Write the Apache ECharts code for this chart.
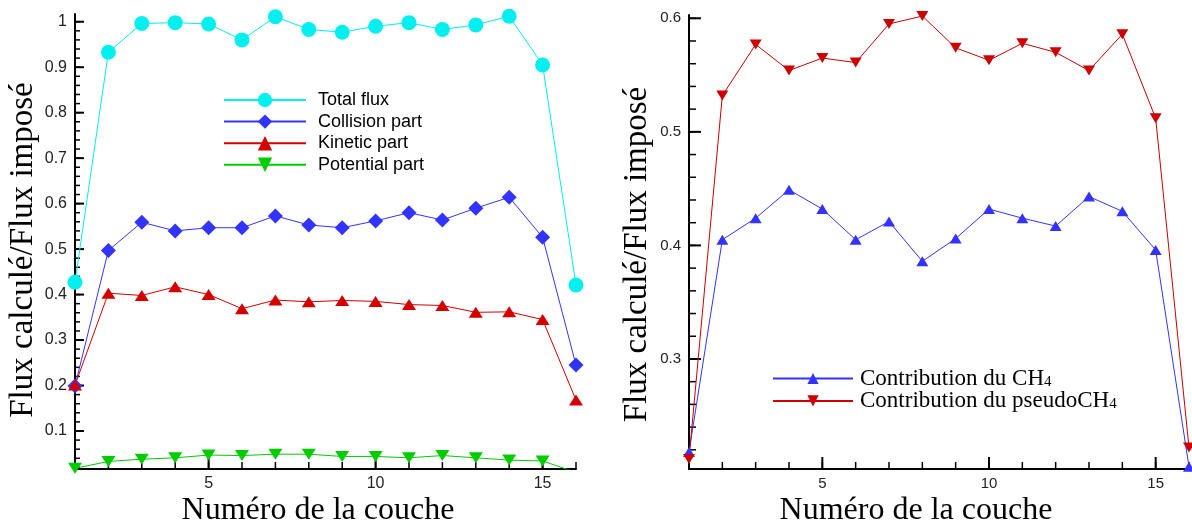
<!DOCTYPE html>
<html><head><meta charset="utf-8">
<script src="https://cdn.jsdelivr.net/npm/echarts@6/dist/echarts.min.js"></script>
<style>html,body{margin:0;padding:0;background:#fff}#c{width:1192px;height:524px}</style>
</head><body><div id="c"></div>
<script>
// ---- data ----
const layers = [1,2,3,4,5,6,7,8,9,10,11,12,13,14,15,16];
const totalFlux     = [0.427,0.933,0.996,0.998,0.995,0.960,1.011,0.983,0.977,0.990,0.998,0.983,0.993,1.012,0.905,0.421];
const collisionPart = [0.199,0.497,0.559,0.540,0.547,0.547,0.573,0.553,0.547,0.562,0.580,0.564,0.590,0.614,0.526,0.245];
const kineticPart   = [0.201,0.403,0.398,0.417,0.400,0.369,0.388,0.384,0.387,0.385,0.378,0.376,0.361,0.362,0.345,0.168];
const potentialPart = [0.018,0.033,0.038,0.041,0.047,0.046,0.049,0.049,0.044,0.044,0.041,0.046,0.041,0.036,0.034,0.009];
const ch4Contrib    = [0.218,0.405,0.424,0.449,0.432,0.405,0.421,0.386,0.406,0.432,0.424,0.417,0.443,0.430,0.396,0.205];
const pseudoContrib = [0.212,0.532,0.577,0.554,0.565,0.561,0.595,0.602,0.574,0.563,0.578,0.570,0.554,0.586,0.512,0.222];

const leftSeriesNames  = ['Total flux','Collision part','Kinetic part','Potential part'];
const rightSeriesNames = ['Contribution du CH4','Contribution du pseudoCH4'];
// tick ranges: [first, last, step]
const xTickLabels      = [5, 15, 5];
const xMinorTicks      = [1, 16, 1];
const leftYTickLabels  = [0.1, 1.0, 0.1];
const rightYTickLabels = [0.3, 0.6, 0.1];
const leftYMinorTicks  = [0.02, 1.0, 0.02];
const rightYMinorTicks = [0.22, 0.6, 0.02];
const xAxisTitle = 'Numéro de la couche';
const yAxisTitle = 'Flux calculé/Flux imposé';

// ---- layout ----
const serif = 'Liberation Serif';
const sans = 'Liberation Sans';
const downTri = 'path://M0,0L20,0L10,17.3Z';
const X = {min:1, max:16};
const P = [
  {box:{left:75, top:14, width:501, height:455}, y:{min:0.0164, max:1.0170}, yMaj:leftYTickLabels, yMin:leftYMinorTicks,
   yMajLen:9, yMinLen:5, xMajLen:11, xMinLen:7, lab:16, yNamePad:17, xNamePad:15, yNameGap:35},
  {box:{left:689, top:15, width:500, height:454}, y:{min:0.2031, max:0.6029}, yMaj:rightYTickLabels, yMin:rightYMinorTicks,
   yMajLen:12, yMinLen:7, xMajLen:12, xMinLen:7, lab:15, yNamePad:25, xNamePad:46, yNameGap:35}
];
const px = (p,v) => p.box.left + (v - X.min)/(X.max - X.min)*p.box.width;
const py = (p,v) => p.box.top + (p.y.max - v)/(p.y.max - p.y.min)*p.box.height;
const steps = ([a,b,s]) => { const out=[]; const n=Math.round((b-a)/s); for(let k=0;k<=n;k++) out.push(+(a+k*s).toFixed(4)); return out; };

const grids=[], xAxes=[], yAxes=[];
const hidden = gi => ({type:'value', gridIndex:gi, show:false, min:0, max:1});
const fmt = v => String(+(+v).toFixed(2));
const mainIdx = [];

// tick labels live on small helper axes whose extents match the label ranges
function yLabelAxis(p, range){
  const [a0,a1,as] = range;
  const gi = grids.length;
  grids.push({left:p.box.left, width:p.box.width, top:py(p,a1), height:py(p,a0)-py(p,a1)});
  xAxes.push(hidden(gi));
  yAxes.push({type:'value', gridIndex:gi, position:'left', min:a0, max:a1, interval:as,
    axisLine:{show:false, onZero:false}, axisTick:{show:false}, splitLine:{show:false},
    axisLabel:{show:true, margin:8, fontFamily:sans, fontSize:p.lab, color:'#222', formatter:fmt}});
}
function xLabelAxis(p, range){
  const [b0,b1,bs] = range;
  const gi = grids.length;
  grids.push({left:px(p,b0), width:px(p,b1)-px(p,b0), top:p.box.top, height:p.box.height});
  yAxes.push(hidden(gi));
  xAxes.push({type:'value', gridIndex:gi, position:'bottom', min:b0, max:b1, interval:bs,
    axisLine:{show:false, onZero:false}, axisTick:{show:false}, splitLine:{show:false},
    axisLabel:{show:true, margin:7, fontFamily:sans, fontSize:p.lab, color:'#222'}});
}

P.forEach(p => {
  const g0 = grids.length;
  grids.push({...p.box, outerBoundsMode:'none'});
  mainIdx.push({x:xAxes.length, y:yAxes.length});
  xAxes.push({type:'value', gridIndex:g0, position:'bottom', min:X.min, max:X.max,
    name:xAxisTitle, nameLocation:'middle', nameGap:26,
    nameTextStyle:{fontFamily:serif, fontSize:32, color:'#000', padding:[0,p.xNamePad,0,0]},
    axisLine:{show:true, onZero:false, lineStyle:{color:'#000', width:2}},
    axisTick:{show:false}, axisLabel:{show:false}, splitLine:{show:false}});
  yAxes.push({type:'value', gridIndex:g0, position:'left', min:p.y.min, max:p.y.max,
    name:yAxisTitle, nameLocation:'middle', nameGap:p.yNameGap, nameRotate:90,
    nameTextStyle:{fontFamily:serif, fontSize:33, color:'#000', padding:[0,p.yNamePad,0,0]},
    axisLine:{show:true, onZero:false, lineStyle:{color:'#000', width:2}},
    axisTick:{show:false}, axisLabel:{show:false}, splitLine:{show:false}});
  yLabelAxis(p, p.yMaj);
  xLabelAxis(p, xTickLabels);
});

// inward tick marks, positioned through the main axes' scales
function tickSeries(panel, dim, range, len, width){
  const p = P[panel];
  const data = steps(range).map(v => dim === 'y' ? [X.min, v] : [v, p.y.min]);
  return {type:'custom', xAxisIndex:mainIdx[panel].x, yAxisIndex:mainIdx[panel].y, silent:true, z:3,
    animation:false, clip:false, data,
    renderItem:(params, api) => {
      const c = api.coord([api.value(0), api.value(1)]);
      const shape = dim === 'y' ? {x1:c[0], y1:c[1], x2:c[0]+len, y2:c[1]} : {x1:c[0], y1:c[1], x2:c[0], y2:c[1]-len};
      return {type:'line', shape, style:{stroke:'#000', lineWidth:width}};
    }};
}

const pairs = ys => layers.map((x,i)=>[x, ys[i]]);
function line(name, data, color, symbol, size, panel){
  return {type:'line', name, data:pairs(data), xAxisIndex:mainIdx[panel].x, yAxisIndex:mainIdx[panel].y,
    symbol, symbolSize:size, showSymbol:true, clip:true, animation:false, z:5,
    lineStyle:{color, width:1}, itemStyle:{color, opacity:1}};
}

const ticks = [];
P.forEach((p, i) => {
  ticks.push(tickSeries(i, 'y', p.yMin, p.yMinLen, 1.5));
  ticks.push(tickSeries(i, 'y', p.yMaj, p.yMajLen, 2));
  ticks.push(tickSeries(i, 'x', xMinorTicks, p.xMinLen, 1.5));
  ticks.push(tickSeries(i, 'x', xTickLabels, p.xMajLen, 2));
});

const option = {
  backgroundColor:'#fff',
  animation:false,
  grid:grids, xAxis:xAxes, yAxis:yAxes,
  legend:[
    {data:leftSeriesNames, orient:'vertical', left:223, top:91, padding:0,
     itemWidth:82, itemHeight:18, itemGap:3.6,
     textStyle:{fontFamily:sans, fontSize:18, color:'#000', lineHeight:18, padding:[0,0,0,7]}},
    {data:rightSeriesNames, orient:'vertical', left:772, top:367, padding:0,
     itemWidth:80, itemHeight:14, itemGap:-0.6,
     formatter:n=>'{t|'+n.replace(/4$/,'')+'}{s|4}',
     textStyle:{fontFamily:serif, fontSize:23, color:'#000', padding:[0,0,0,2],
       rich:{t:{fontFamily:serif, fontSize:23, lineHeight:22, color:'#000'},
             s:{fontFamily:serif, fontSize:15, lineHeight:12, verticalAlign:'bottom', color:'#000'}}}}
  ],
  series:[
    ...ticks,
    line(leftSeriesNames[0], totalFlux, '#00f0f0', 'circle', 15, 0),
    line(leftSeriesNames[1], collisionPart, '#3333ff', 'diamond', 15, 0),
    line(leftSeriesNames[2], kineticPart, '#d40000', 'triangle', [14,11], 0),
    line(leftSeriesNames[3], potentialPart, '#00cc00', downTri, [14,11], 0),
    line(rightSeriesNames[0], ch4Contrib, '#3333ff', 'triangle', [12,10], 1),
    line(rightSeriesNames[1], pseudoContrib, '#cc0000', downTri, [12,10], 1)
  ]
};
const chart = echarts.init(document.getElementById('c'), null, {renderer:'canvas'});
chart.setOption(option);
</script></body></html>
